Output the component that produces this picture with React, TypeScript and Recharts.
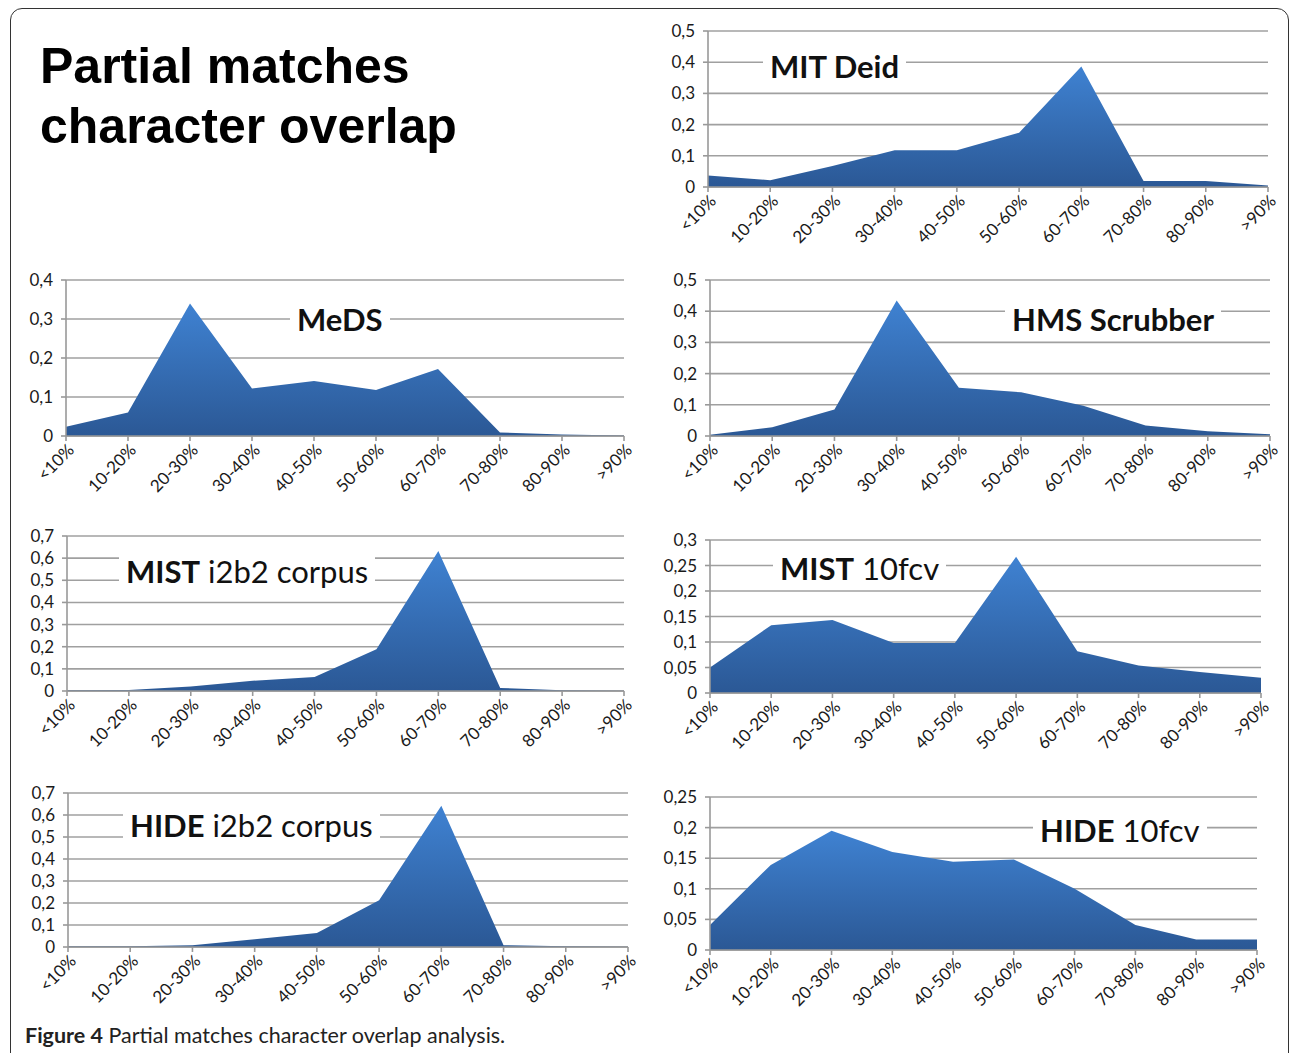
import React from 'react';
import { AreaChart, Area, XAxis, YAxis, CartesianGrid } from 'recharts';

const bins = ['<10%', '10-20%', '20-30%', '30-40%', '40-50%', '50-60%', '60-70%', '70-80%', '80-90%', '>90%'];

const mitDeid = [0.037, 0.022, 0.067, 0.118, 0.118, 0.174, 0.386, 0.019, 0.019, 0.005];
const meds = [0.024, 0.06, 0.34, 0.122, 0.141, 0.118, 0.172, 0.009, 0.004, 0.001];
const hmsScrubber = [0.004, 0.028, 0.085, 0.434, 0.155, 0.14, 0.097, 0.034, 0.015, 0.006];
const mistI2b2 = [0.003, 0.005, 0.02, 0.046, 0.063, 0.188, 0.632, 0.014, 0.003, 0.001];
const mist10fcv = [0.05, 0.133, 0.143, 0.098, 0.098, 0.267, 0.082, 0.054, 0.041, 0.03];
const hideI2b2 = [0.003, 0.003, 0.008, 0.035, 0.064, 0.212, 0.642, 0.008, 0.003, 0.001];
const hide10fcv = [0.041, 0.139, 0.195, 0.16, 0.144, 0.148, 0.1, 0.041, 0.017, 0.017];

const ticksHalf = [0, 0.1, 0.2, 0.3, 0.4, 0.5];
const ticksFour = [0, 0.1, 0.2, 0.3, 0.4];
const ticksSeven = [0, 0.1, 0.2, 0.3, 0.4, 0.5, 0.6, 0.7];
const ticksThree = [0, 0.05, 0.1, 0.15, 0.2, 0.25, 0.3];
const ticksQuarter = [0, 0.05, 0.1, 0.15, 0.2, 0.25];

const CALIBRI = 'Lato, "Open Sans", sans-serif';
const Y_W = 50;
const R_PAD = 18;

const comma = (v: number) => String(v).replace('.', ',');

const SlantTick = (props: any) => {
  const { x, y, payload } = props;
  return (
    <g transform={`translate(${x + 5},${y + 4})`}>
      <text x={0} y={0} dy="0.35em" textAnchor="end" transform="rotate(-45)"
        fontSize={17} fontFamily={CALIBRI} fill="#1a1a1a">
        {payload.value}
      </text>
    </g>
  );
};

interface PanelProps {
  id: string;
  values: number[];
  ticks: number[];
  x0: number; x1: number; y0: number; y1: number;
  bold: string; rest?: string;
  lx: number; ly: number;
}

function Panel({ id, values, ticks, x0, x1, y0, y1, bold, rest, lx, ly }: PanelProps) {
  const data = bins.map((b, i) => ({ bin: b, v: values[i] }));
  const width = x1 - x0 + Y_W + R_PAD;
  const height = y1 - y0 + 72;
  return (
    <>
      <div style={{ position: 'absolute', left: x0 - Y_W, top: y0 - 10 }}>
        <AreaChart width={width} height={height} data={data}
          margin={{ top: 10, right: R_PAD, left: 0, bottom: 2 }}>
          <defs>
            <linearGradient id={`g-${id}`} x1="0" y1="0" x2="0" y2="1">
              <stop offset="0%" stopColor="#3f82d2" />
              <stop offset="100%" stopColor="#2b5895" />
            </linearGradient>
          </defs>
          <CartesianGrid vertical={false} stroke="#a0a0a0" strokeWidth={1.6} />
          <XAxis dataKey="bin" interval={0} tick={<SlantTick />} height={60}
            axisLine={{ stroke: '#999', strokeWidth: 1.6 }}
            tickLine={{ stroke: '#999', strokeWidth: 1.6 }} tickSize={5} />
          <YAxis width={Y_W} domain={[0, ticks[ticks.length - 1]]} ticks={ticks} interval={0}
            tickFormatter={comma} tickSize={5} tickMargin={8}
            axisLine={{ stroke: '#999', strokeWidth: 1.6 }}
            tickLine={{ stroke: '#999', strokeWidth: 1.6 }}
            tick={{ fontSize: 17, fontFamily: CALIBRI, fill: '#1a1a1a' }} />
          <Area type="linear" dataKey="v" stroke="none" fill={`url(#g-${id})`}
            fillOpacity={1} isAnimationActive={false} />
        </AreaChart>
      </div>
      <div style={{
        position: 'absolute', left: lx - 7, top: ly - 20, height: 40, lineHeight: '40px',
        padding: '0 7px', background: '#fff', fontFamily: CALIBRI, fontSize: 31,
        color: '#111', whiteSpace: 'nowrap', zIndex: 2,
      }}>
        <b>{bold}</b>{rest ? <span style={{ fontWeight: 400 }}>{' ' + rest}</span> : null}
      </div>
    </>
  );
}

export default function App() {
  return (
    <div style={{ position: 'absolute', left: 0, top: 0, width: 1290, height: 1053, overflow: 'hidden', background: '#fff' }}>
      <div style={{
        position: 'absolute', left: 10, top: 8, width: 1277, height: 1100,
        border: '1.5px solid #333', borderRadius: 12,
      }} />
      <div style={{
        position: 'absolute', left: 40, top: 36, fontFamily: '"Liberation Sans", Arial, sans-serif',
        fontWeight: 700, fontSize: 50, lineHeight: '60px', color: '#000',
      }}>
        Partial matches<br />character overlap
      </div>

      <Panel id="mit" values={mitDeid} ticks={ticksHalf} x0={708} x1={1268} y0={31} y1={187}
        bold="MIT Deid" lx={770} ly={66} />
      <Panel id="meds" values={meds} ticks={ticksFour} x0={66} x1={624} y0={280} y1={436}
        bold="MeDS" lx={297} ly={319} />
      <Panel id="hms" values={hmsScrubber} ticks={ticksHalf} x0={710} x1={1270} y0={280} y1={436}
        bold="HMS Scrubber" lx={1012} ly={319} />
      <Panel id="misti2b2" values={mistI2b2} ticks={ticksSeven} x0={67} x1={624} y0={536} y1={691}
        bold="MIST" rest="i2b2 corpus" lx={126} ly={571} />
      <Panel id="mist10" values={mist10fcv} ticks={ticksThree} x0={710} x1={1261} y0={540} y1={693}
        bold="MIST" rest="10fcv" lx={780} ly={568} />
      <Panel id="hidei2b2" values={hideI2b2} ticks={ticksSeven} x0={68} x1={628} y0={793} y1={947}
        bold="HIDE" rest="i2b2 corpus" lx={130} ly={825} />
      <Panel id="hide10" values={hide10fcv} ticks={ticksQuarter} x0={710} x1={1257} y0={797} y1={950}
        bold="HIDE" rest="10fcv" lx={1040} ly={830} />

      <div style={{
        position: 'absolute', left: 25, top: 1025, fontFamily: CALIBRI, fontSize: 21.5,
        lineHeight: 1, color: '#222', whiteSpace: 'nowrap',
      }}>
        <b>Figure 4</b> Partial matches character overlap analysis.
      </div>
    </div>
  );
}
